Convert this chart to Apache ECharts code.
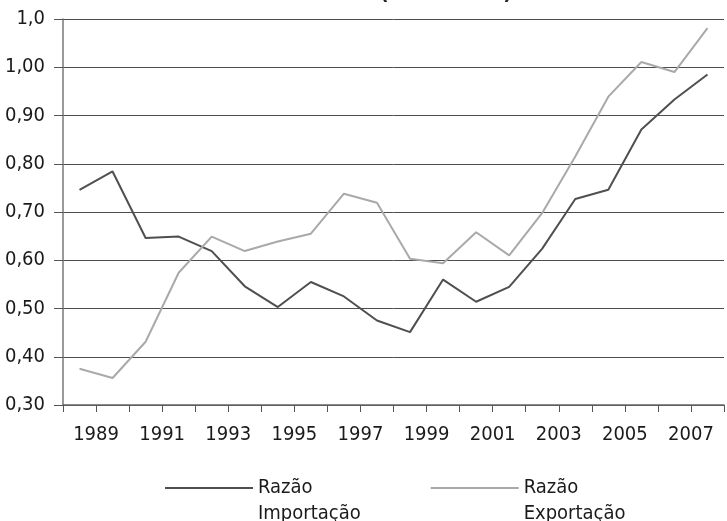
<!DOCTYPE html>
<html>
<head>
<meta charset="utf-8">
<script src="https://cdn.jsdelivr.net/npm/echarts@6/dist/echarts.min.js"></script>
<style>
html, body { margin: 0; padding: 0; background: #fff; }
#chart { width: 727px; height: 521px; }
</style>
</head>
<body>
<div id="chart"></div>
<script>
// anos (um ponto por ano)
var years = [1988, 1989, 1990, 1991, 1992, 1993, 1994, 1995, 1996, 1997,
             1998, 1999, 2000, 2001, 2002, 2003, 2004, 2005, 2006, 2007];
var importacao = [0.746, 0.784, 0.646, 0.649, 0.619, 0.546, 0.503, 0.555, 0.525, 0.475,
                  0.451, 0.560, 0.514, 0.545, 0.624, 0.727, 0.746, 0.871, 0.933, 0.985];
var exportacao = [0.375, 0.356, 0.431, 0.574, 0.649, 0.619, 0.639, 0.655, 0.738, 0.719,
                  0.603, 0.594, 0.658, 0.610, 0.698, 0.815, 0.939, 1.011, 0.990, 1.081];
var xTickLabels = ['', '1989', '', '1991', '', '1993', '', '1995', '', '1997', '',
                   '1999', '', '2001', '', '2003', '', '2005', '', '2007', ''];
var yTickLabels = ['0,30', '0,40', '0,50', '0,60', '0,70', '0,80', '0,90', '1,00', '1,0'];

var font = '"DejaVu Sans Condensed", "Liberation Sans", sans-serif';

function toPoints(arr) {
    // cada ano fica no centro do seu intervalo entre marcas
    return arr.map(function (v, i) { return [i + 0.5, v]; });
}

var myChart = echarts.init(document.getElementById('chart'));
myChart.setOption({
    animation: false,
    title: {
        text: '(1988–2007)',
        left: 441,
        top: -22,
        textAlign: 'center',
        textStyle: { fontFamily: font, fontSize: 21, fontWeight: 'bold', color: '#222' }
    },
    grid: { left: 63, right: 0, top: 19, bottom: 116 },
    legend: {
        left: 160,
        top: 444,
        itemWidth: 88,
        itemHeight: 2,
        itemGap: 70,
        icon: 'rect',
        // linha vazia em cima para a linha da legenda ficar ao lado de "Razão"
        formatter: function (name) { return '\n' + name; },
        textStyle: {
            fontFamily: font,
            fontSize: 20,
            lineHeight: 26,
            color: '#1a1a1a',
            width: 100
        },
        data: ['Razão\nImportação', 'Razão\nExportação']
    },
    xAxis: {
        type: 'value',
        min: 0,
        max: years.length,
        interval: 1,
        splitLine: { show: false },
        axisLine: { lineStyle: { color: '#666', width: 1.5 } },
        axisTick: { length: 7, lineStyle: { color: '#555' } },
        axisLabel: {
            margin: 20,
            fontFamily: font,
            fontSize: 20,
            color: '#1a1a1a',
            formatter: function (v) { return xTickLabels[Math.round(v)] || ''; }
        }
    },
    yAxis: {
        type: 'value',
        min: 0.3,
        max: 1.1,
        interval: 0.1,
        axisLine: { show: true, lineStyle: { color: '#777', width: 1.5 } },
        axisTick: { show: true, length: 9, lineStyle: { color: '#555' } },
        splitLine: { lineStyle: { color: '#4d4d4d', width: 1 } },
        axisLabel: {
            margin: 18,
            fontFamily: font,
            fontSize: 20,
            color: '#1a1a1a',
            formatter: function (v) { return yTickLabels[Math.round((v - 0.3) * 10)]; }
        }
    },
    series: [
        {
            name: 'Razão\nImportação',
            type: 'line',
            data: toPoints(importacao),
            symbol: 'none',
            lineStyle: { color: '#4f4f4f', width: 2 },
            itemStyle: { color: '#4f4f4f' }
        },
        {
            name: 'Razão\nExportação',
            type: 'line',
            data: toPoints(exportacao),
            symbol: 'none',
            lineStyle: { color: '#a9a9a9', width: 2 },
            itemStyle: { color: '#a9a9a9' }
        }
    ]
});
</script>
</body>
</html>
